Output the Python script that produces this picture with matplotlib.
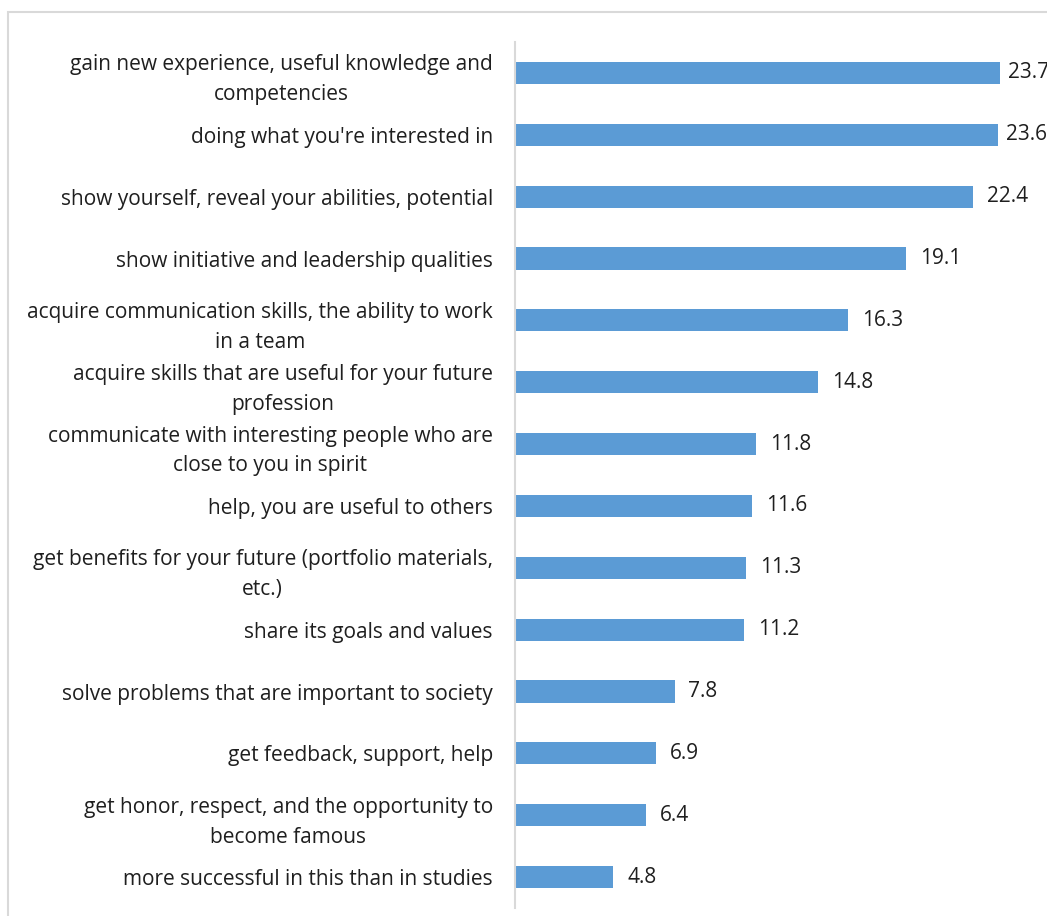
import matplotlib.pyplot as plt
from matplotlib.patches import Rectangle

categories = [
    "gain new experience, useful knowledge and\ncompetencies",
    "doing what you're interested in",
    "show yourself, reveal your abilities, potential",
    "show initiative and leadership qualities",
    "acquire communication skills, the ability to work\nin a team",
    "acquire skills that are useful for your future\nprofession",
    "communicate with interesting people who are\nclose to you in spirit",
    "help, you are useful to others",
    "get benefits for your future (portfolio materials,\netc.)",
    "share its goals and values",
    "solve problems that are important to society",
    "get feedback, support, help",
    "get honor, respect, and the opportunity to\nbecome famous",
    "more successful in this than in studies",
]
values = [23.7, 23.6, 22.4, 19.1, 16.3, 14.8, 11.8, 11.6, 11.3, 11.2, 7.8, 6.9, 6.4, 4.8]

BAR_COLOR = "#5B9BD5"
GRID_GRAY = "#D9D9D9"
TEXT = "#1F1F1F"

plt.rcParams['font.family'] = ['Open Sans', 'DejaVu Sans']

W, H = 1047, 916
fig = plt.figure(figsize=(W / 100, H / 100), dpi=100)

# chart area border (runs off the right and bottom edges)
fig.patches.append(Rectangle((8 / W, -0.05), 1.2, 1 - 12 / H + 0.05,
                             transform=fig.transFigure, fill=False,
                             edgecolor=GRID_GRAY, linewidth=1.5))

x0, x1 = 515, 515 + 25 * 20.46
y_top, y_bot = 42, 908
ax = fig.add_axes([x0 / W, 1 - y_bot / H, (x1 - x0) / W, (y_bot - y_top) / H])

n = len(categories)
pos = list(range(n))
ax.barh(pos, values, height=0.36, color=BAR_COLOR)
ax.set_ylim(n - 0.5, -0.5)
ax.set_xlim(0, 25)

# labels run off the right edge for the two longest bars, as in the source
for p, v in zip(pos, values):
    dx = 6 if v > 23 else 10
    ax.annotate(f"{v:.1f}", (v, p), xytext=(dx, 0), textcoords="offset points",
                va="center", ha="left", fontsize=15, color=TEXT,
                annotation_clip=False)

ax.set_yticks(pos)
ax.set_yticklabels(categories, fontsize=15, color=TEXT,
                   multialignment="center", linespacing=1.55)
ax.tick_params(axis="y", length=0, pad=16)
ax.set_xticks([])

for side in ["top", "right", "bottom"]:
    ax.spines[side].set_visible(False)
ax.spines["left"].set_color(GRID_GRAY)
ax.spines["left"].set_linewidth(1.5)

fig.savefig("out.png", dpi=100)
